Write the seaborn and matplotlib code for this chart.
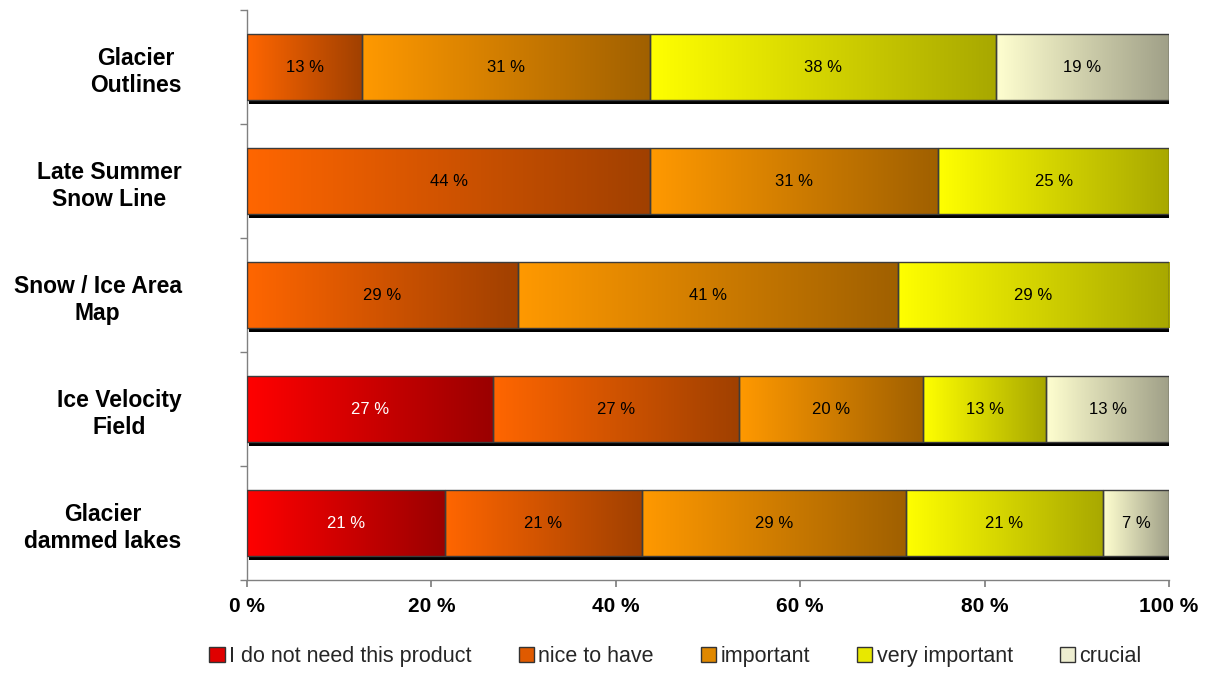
import numpy as np
import pandas as pd
import matplotlib.pyplot as plt
import matplotlib.patheffects as pe
from matplotlib.colors import LinearSegmentedColormap
from matplotlib.patches import Rectangle
import seaborn as sns

products = ['Glacier\nOutlines', 'Late Summer\nSnow Line', 'Snow / Ice Area\nMap',
            'Ice Velocity\nField', 'Glacier\ndammed lakes']
ratings = ['I do not need this product', 'nice to have', 'important', 'very important', 'crucial']

# percent of answers per product
not_needed = [0, 0, 0, 26.67, 21.43]
nice_to_have = [12.5, 43.75, 29.41, 26.67, 21.43]
important = [31.25, 31.25, 41.18, 20.0, 28.57]
very_important = [37.5, 25.0, 29.41, 13.33, 21.43]
crucial = [18.75, 0, 0, 13.33, 7.14]

xticks = [0, 20, 40, 60, 80, 100]
xticklabels = ['0 %', '20 %', '40 %', '60 %', '80 %', '100 %']

# gradient start (left) / end (right) for each rating
light = ['#ff0000', '#ff6600', '#ff9900', '#ffff00', '#ffffd0']
dark = ['#9a0000', '#a04000', '#a06000', '#a8a800', '#a0a088']
legend_colors = ['#e00000', '#e05a00', '#e08800', '#e8e800', '#eeeed0']
text_colors = ['white', 'black', 'black', 'black', 'black']

df = pd.DataFrame({'product': products, ratings[0]: not_needed, ratings[1]: nice_to_have,
                   ratings[2]: important, ratings[3]: very_important, ratings[4]: crucial})
cum = df[ratings].cumsum(axis=1)

sns.set_theme(style='white')
plt.rcParams['font.family'] = ['Liberation Sans', 'DejaVu Sans']
narrow = ['Liberation Sans Narrow', 'Liberation Sans', 'DejaVu Sans']

fig = plt.figure(figsize=(12.15, 6.75), dpi=100)
ax = fig.add_axes([0.2033, 0.1407, 0.7588, 0.8444])

segments = []
for i, r in enumerate(ratings):
    n0 = len(ax.patches)
    plot_df = pd.DataFrame({'product': products, 'cum': cum[r]})
    sns.barplot(data=plot_df, x='cum', y='product', orient='h', color=light[i],
                saturation=1, width=0.58, ax=ax, err_kws={'linewidth': 0})
    for j, p in enumerate(ax.patches[n0:]):
        segments.append((i, j, p))

grad = np.linspace(0, 1, 256).reshape(1, -1)
for i, j, p in segments:
    v = df[ratings[i]][j]
    if v <= 0:
        p.remove()
        continue
    left = cum[ratings[i]][j] - v
    p.set_x(left)
    p.set_width(v)
    y0, h = p.get_y(), p.get_height()
    p.set_facecolor('black')
    p.set_edgecolor('none')
    p.set_zorder(2)
    p.set_path_effects([pe.SimplePatchShadow(offset=(1.5, -2.5), shadow_rgbFace='black', alpha=1),
                        pe.Normal()])
    cmap = LinearSegmentedColormap.from_list(f'g{i}', [light[i], dark[i]])
    im = ax.imshow(grad, cmap=cmap, aspect='auto', extent=(left, left + v, y0 + h, y0),
                   zorder=3, interpolation='bilinear')
    im.set_clip_path(p)
    ax.add_patch(Rectangle((left, y0), v, h, fill=False, edgecolor='#3c3c3c', lw=1, zorder=4))
    ax.text(left + v / 2, y0 + h / 2, f'{int(v + 0.5)} %', ha='center', va='center',
            fontsize=12, color=text_colors[i], family=narrow, zorder=5)

ax.set_xlim(0, 100)
ax.set_ylim(4.5, -0.5)
ax.set_xlabel('')
ax.set_ylabel('')
ax.set_xticks(xticks, xticklabels)
ax.set_yticks(range(len(products)), products)
ax.set_yticks(np.arange(-0.5, len(products), 1), minor=True)

for s in ['top', 'right']:
    ax.spines[s].set_visible(False)
for s in ['left', 'bottom']:
    ax.spines[s].set_color('#808080')
    ax.spines[s].set_linewidth(1)

ax.tick_params(axis='x', bottom=True, length=5, color='#808080', pad=7,
               labelsize=15, labelcolor='black')
ax.tick_params(axis='y', which='major', left=False, length=0, pad=47,
               labelsize=16.5, labelcolor='black')
ax.tick_params(axis='y', which='minor', left=True, length=5, color='#808080')
for t in ax.get_xticklabels() + ax.get_yticklabels():
    t.set_fontweight('bold')
for t in ax.get_yticklabels():
    t.set_multialignment('center')
    t.set_linespacing(1.25)

handles = [Rectangle((0, 0), 1, 1, facecolor=c, edgecolor='#333333', lw=1) for c in legend_colors]
leg = fig.legend(handles, ratings, loc='center', bbox_to_anchor=(0.556, 0.028), ncol=5,
                 frameon=False, handlelength=0.7, handleheight=0.7, handletextpad=0.2,
                 columnspacing=2.2, prop={'family': narrow, 'size': 15.5})

fig.savefig('out.png', dpi=100)
